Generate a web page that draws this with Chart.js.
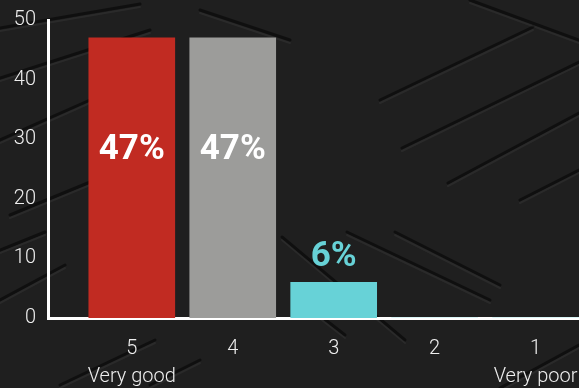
<!DOCTYPE html>
<html>
<head>
<meta charset="utf-8">
<script src="https://cdn.jsdelivr.net/npm/chart.js@4.4.1/dist/chart.umd.min.js"></script>
<style>
  html, body { margin: 0; padding: 0; background: #1f1f1f; overflow: hidden; }
  #wrap { position: relative; width: 579px; height: 388px; }
</style>
</head>
<body>
<div id="wrap"><canvas id="rating" width="579" height="388"></canvas></div>
<script>
/* ================= DATA ================= */
const ratings = ["5", "4", "3", "2", "1"];
const extremes = ["Very good", "", "", "", "Very poor"];
const shares = [47, 47, 6, 0, 0];
const yTicks = [0, 10, 20, 30, 40, 50];

/* ================= STYLE ================= */
const barColors = ["#c12b22", "#9c9c9a", "#67d2d7", "#67d2d7", "#67d2d7"];
const FONT = "Roboto, 'DejaVu Sans Condensed', sans-serif";
const INK = "#eeeeee";

// diamond plate streaks for the backdrop (decoration only)
const streaks = [
  [0, 28, 140, 4], [0, 78, 150, 30], [0, 140, 90, 100], [10, 215, 95, 180],
  [380, 100, 533, 27], [402, 148, 579, 62], [448, 183, 579, 113], [520, 200, 579, 170],
  [0, 300, 65, 265], [60, 385, 155, 340], [150, 385, 200, 360], [500, 388, 579, 345],
  [282, 237, 405, 340], [347, 232, 490, 300], [395, 232, 500, 285], [300, 300, 345, 335],
  [200, 10, 290, 40], [470, 0, 579, 40], [0, 250, 45, 232]
];

const backdrop = {
  id: "backdrop",
  beforeDraw(chart) {
    const ctx = chart.ctx;
    ctx.save();
    ctx.fillStyle = "#1f1f1f";
    ctx.fillRect(0, 0, chart.width, chart.height);
    ctx.lineCap = "round";
    streaks.forEach(([x1, y1, x2, y2]) => {
      ctx.strokeStyle = "rgba(0,0,0,0.5)";
      ctx.lineWidth = 3;
      ctx.beginPath(); ctx.moveTo(x1, y1); ctx.lineTo(x2, y2); ctx.stroke();
      ctx.strokeStyle = "rgba(255,255,255,0.05)";
      ctx.lineWidth = 2;
      ctx.beginPath(); ctx.moveTo(x1, y1 + 3); ctx.lineTo(x2, y2 + 3); ctx.stroke();
    });
    ctx.restore();
  }
};

/* ================= VALUE LABELS ================= */
const valueLabels = {
  id: "valueLabels",
  afterDatasetsDraw(chart) {
    const ctx = chart.ctx;
    const y = chart.scales.y;
    const meta = chart.getDatasetMeta(0);
    ctx.save();
    ctx.textAlign = "center";
    ctx.textBaseline = "middle";
    ctx.font = "bold 35px " + FONT;
    meta.data.forEach((bar, i) => {
      const v = shares[i];
      if (!v) return;
      if (v >= 20) {
        ctx.fillStyle = "#ffffff";
        ctx.fillText(v + "%", bar.x, y.getPixelForValue(v * 0.6));
      } else {
        ctx.fillStyle = barColors[i];
        ctx.fillText(v + "%", bar.x, bar.y - 25);
      }
    });
    ctx.restore();
  }
};

/* ================= CHART ================= */
new Chart(document.getElementById("rating"), {
  type: "bar",
  data: {
    datasets: [{
      data: shares.map((v, i) => ({ x: i + 1, y: v })),
      backgroundColor: barColors,
      borderWidth: 0,
      barThickness: 86
    }]
  },
  options: {
    responsive: false,
    animation: false,
    layout: { padding: { top: 20, right: 0, bottom: 0, left: 0 } },
    plugins: { legend: { display: false }, tooltip: { enabled: false } },
    scales: {
      x: {
        type: "linear",
        min: 0.17,
        max: 5.43,
        offset: false,
        afterBuildTicks: s => { s.ticks = ratings.map((_, i) => ({ value: i + 1 })); },
        afterFit: s => { s.height = 70; s.paddingLeft = 0; s.paddingRight = 0; },
        grid: { display: false, drawTicks: false },
        border: { color: "#ffffff", width: 3 },
        ticks: {
          color: INK,
          padding: 17,
          maxRotation: 0,
          autoSkip: false,
          font: { family: FONT, size: 20, weight: 300, lineHeight: 1.4 },
          callback: v => {
            const i = Math.round(v) - 1;
            return extremes[i] ? [ratings[i], extremes[i]] : ratings[i];
          }
        }
      },
      y: {
        min: 0,
        max: 50,
        afterBuildTicks: s => { s.ticks = yTicks.map(v => ({ value: v })); },
        afterFit: s => { s.width = 48; s.paddingTop = 0; s.paddingBottom = 0; },
        grid: { display: false, drawTicks: false },
        border: { color: "#ffffff", width: 3 },
        ticks: {
          color: INK,
          padding: 12,
          font: { family: FONT, size: 20, weight: 300 }
        }
      }
    }
  },
  plugins: [backdrop, valueLabels]
});
</script>
</body>
</html>
